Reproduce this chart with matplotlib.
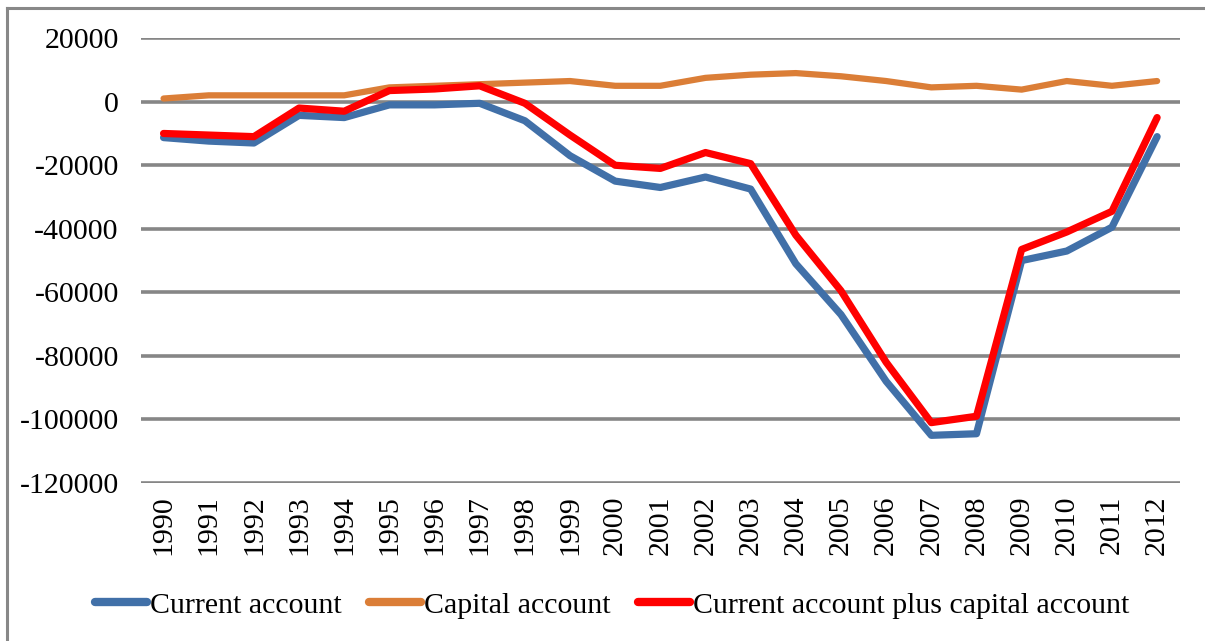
import matplotlib
matplotlib.use("Agg")
import matplotlib.pyplot as plt
from matplotlib.lines import Line2D

plt.rcParams['font.family'] = ['Liberation Serif', 'DejaVu Serif']

years = [str(y) for y in range(1990, 2013)]
current = [-11300, -12400, -13000, -4300, -5000, -1000, -1000, -500, -6000, -17000,
           -25000, -27000, -23700, -27500, -51000, -67000, -88000, -105000, -104500,
           -50000, -47000, -39500, -11000]
capital = [1000, 2000, 2000, 2000, 2000, 4500, 5000, 5500, 6000, 6500, 5000, 5000,
           7500, 8500, 9000, 8000, 6500, 4500, 5000, 3800, 6500, 5000, 6500]
combined = [-10000, -10500, -11000, -2000, -3000, 3500, 4000, 5000, -500, -10500,
            -20000, -21000, -16000, -19500, -42000, -59500, -82000, -101000, -99000,
            -46500, -41000, -34500, -5000]
yticks = [20000, 0, -20000, -40000, -60000, -80000, -100000, -120000]

fig = plt.figure(figsize=(12.05, 6.41), dpi=100)
ax = fig.add_axes([0.117, 0.2465, 0.862, 0.694])

x = range(len(years))
ax.plot(x, current, color='#4170A8', lw=5.2, solid_capstyle='round', label='Current account', zorder=3)
ax.plot(x, capital, color='#DB7E37', lw=4.5, solid_capstyle='round', label='Capital account', zorder=3)
ax.plot(x, combined, color='#FF0000', lw=5.2, solid_capstyle='round',
        label='Current account plus capital account', zorder=4)

ax.set_ylim(-120000, 20000)
ax.set_xlim(-0.5, len(years) - 0.5)
ax.set_yticks(yticks)
ax.set_yticklabels([str(v) for v in yticks])
ax.set_xticks(list(x))
ax.set_xticklabels(years, rotation=90)
ax.tick_params(axis='both', length=0, labelsize=21.5)
ax.tick_params(axis='y', pad=16)
ax.tick_params(axis='x', pad=9)
ax.yaxis.grid(True, color='#868686', lw=2.6)
ax.set_axisbelow(True)
for s in ax.spines.values():
    s.set_visible(False)

leg = ax.legend(loc='center', bbox_to_anchor=(0.508, 0.056), bbox_transform=fig.transFigure,
                ncol=3, frameon=False, fontsize=21.5, handlelength=1.75, handletextpad=0.1,
                columnspacing=0.9)
for h in leg.get_lines():
    h.set_linewidth(6)
    h.set_solid_capstyle('round')

# grey frame round the chart (left and top edges visible)
fig.add_artist(Line2D([7/1205, 7/1205], [0, 1 - 8/641], color='#888888', lw=2.2,
                      transform=fig.transFigure))
fig.add_artist(Line2D([7/1205, 1], [1 - 8/641, 1 - 8/641], color='#888888', lw=2.2,
                      transform=fig.transFigure))

fig.savefig('out.png', dpi=100)
